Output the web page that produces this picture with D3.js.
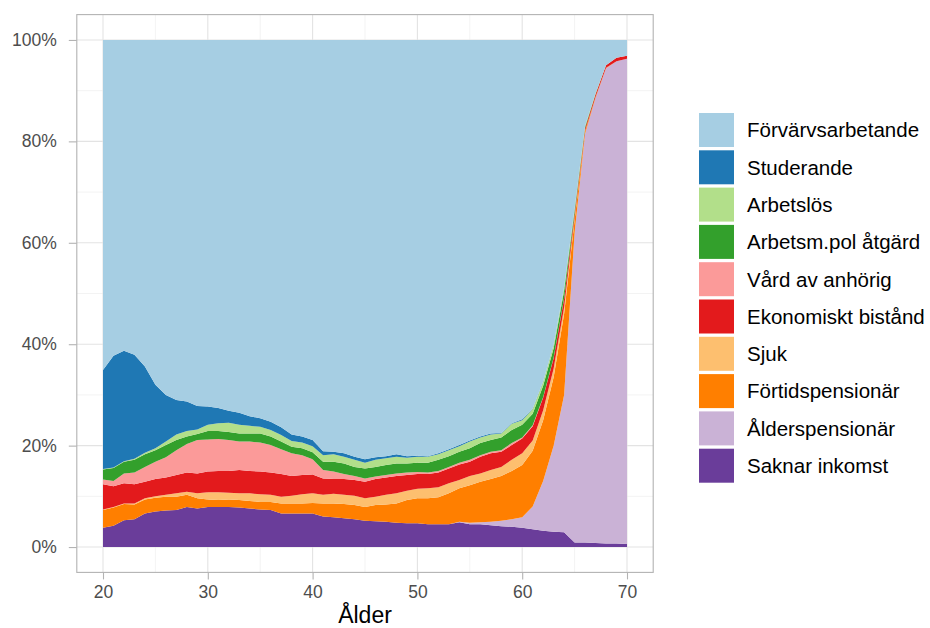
<!DOCTYPE html>
<html>
<head>
<meta charset="utf-8">
<script src="https://cdn.jsdelivr.net/npm/d3@7"></script>
<style>
  body { margin: 0; background: #fff; }
  svg text { font-family: "Liberation Sans", Arial, sans-serif; }
</style>
</head>
<body>
<div class="chart"></div>
<script>
// ålder 20..70
let ages = d3.range(20, 71)
let saknar = [3.8,4.2,5.3,5.5,6.6,7.0,7.2,7.3,7.9,7.6, 7.9,7.9,7.9,7.8,7.6,7.4,7.3,6.6,6.6,6.6, 6.6,6.0,5.9,5.7,5.5,5.2,5.1,5.0,4.8,4.7, 4.7,4.5,4.5,4.5,4.9,4.5,4.5,4.3,4.1,4.0, 3.8,3.5,3.2,3.0,2.9,0.9,0.9,0.8,0.7,0.7, 0.6]
let alders = [0,0,0,0,0,0,0,0,0,0, 0,0,0,0,0,0,0,0,0,0, 0,0,0,0,0,0,0,0,0,0, 0,0,0,0,0.1,0.3,0.4,0.7,1.1,1.5, 2.1,4.5,9.8,17.0,27.1,61.1,80.6,87.8,93.7,95.1, 95.7]
let fortid = [3.5,3.6,3.2,2.9,2.8,2.7,2.7,2.6,2.4,2.0, 1.5,1.4,1.5,1.5,1.5,1.5,1.6,2.0,2.0,2.0, 2.1,2.6,2.7,2.8,2.8,2.7,3.2,3.4,3.8,4.6, 4.9,5.1,5.3,6.1,6.6,7.4,8.0,8.4,8.8,9.5, 10.3,11.0,12.0,13.5,16.0,2.5,0.5,0.2,0.1,0, 0]
let sjuk = [0.1,0.1,0.1,0.2,0.2,0.3,0.4,0.7,0.6,1.0, 1.4,1.5,1.3,1.3,1.5,1.5,1.4,1.3,1.5,1.8, 1.9,1.7,1.9,1.8,1.8,1.7,1.6,1.9,2.0,1.8, 1.9,2.0,2.0,2.0,1.6,1.8,1.6,1.8,1.8,2.2, 2.3,2.0,2.0,1.7,1.3,0.5,0.1,0,0,0, 0]
let bistand = [5.0,4.1,4.0,3.8,3.3,3.4,3.4,3.6,3.8,3.9, 4.1,4.2,4.3,4.6,4.4,4.5,4.4,4.5,3.9,3.8, 3.7,3.2,2.9,3.1,3.1,3.3,3.5,3.4,3.4,3.1, 2.9,2.8,2.9,2.9,3.1,2.8,3.3,3.3,3.0,2.9, 2.9,2.8,2.5,2.1,1.7,0.8,0.5,0.5,0.5,0.7, 0.6]
let vard = [0.9,1.0,1.9,2.3,2.9,3.4,4.0,4.9,5.6,6.6, 6.3,6.3,6.1,5.6,5.8,5.7,5.4,4.9,4.5,3.9, 3.0,1.7,1.5,1.0,0.8,0.6,0.5,0.5,0.5,0.5, 0.4,0.3,0.3,0.3,0.3,0.4,0.3,0.3,0.3,0.4, 0.2,0.2,0.1,0.1,0.1,0,0,0,0,0, 0]
let atgard = [2.0,2.6,2.3,2.5,2.5,2.3,2.4,2.0,1.5,1.2, 1.7,1.6,1.6,1.6,1.6,1.8,1.7,1.5,1.3,1.4, 1.4,1.6,1.9,2.1,1.8,2.0,1.9,2.0,2.0,1.8, 1.8,1.9,2.2,2.1,2.2,2.3,2.4,2.3,2.5,2.6, 2.5,2.3,2.2,1.8,1.5,0.6,0.3,0.1,0,0, 0]
let arbetslos = [0.1,0.1,0.1,0.2,0.3,0.4,0.7,1.1,1.1,0.9, 1.2,1.5,1.8,1.7,1.5,1.3,1.3,1.3,1.1,1.1, 1.2,1.3,1.5,1.3,1.4,1.1,1.4,1.3,1.3,1.1, 1.2,1.2,1.1,1.2,1.1,1.3,1.1,1.1,0.8,1.2, 0.9,0.9,0.8,0.7,0.6,0.4,0.2,0.1,0,0, 0]
let studerande = [19.5,22.0,21.8,20.5,17.0,12.5,9.2,6.8,5.8,4.6, 3.6,3.0,2.4,2.4,1.9,1.7,1.6,1.5,1.3,1.2, 1.2,0.8,0.5,0.7,0.6,0.7,0.5,0.4,0.5,0.3, 0.2,0.1,0.2,0.2,0.2,0.2,0.2,0.2,0.1,0.1, 0.2,0.1,0.1,0.1,0.1,0,0,0,0,0, 0]
let forvarv = [65.1,62.3,61.3,62.1,64.4,68.0,70.0,71.0,71.3,72.2, 72.3,72.6,73.1,73.5,74.2,74.6,75.3,76.4,77.8,78.2, 78.9,81.1,81.2,81.5,82.2,82.7,82.3,82.1,81.7,82.1, 82.0,82.1,81.5,80.7,79.9,79.0,78.2,77.6,77.5,75.6, 74.8,72.7,67.3,60.0,48.7,33.2,16.9,10.5,5.0,3.5, 3.1]

// nerifrån och upp
let keys = ["Saknar inkomst", "Ålderspensionär", "Förtidspensionär", "Sjuk", "Ekonomiskt bistånd",
    "Vård av anhörig", "Arbetsm.pol åtgärd", "Arbetslös", "Studerande", "Förvärvsarbetande"]
let series = [saknar, alders, fortid, sjuk, bistand, vard, atgard, arbetslos, studerande, forvarv]
let colors = ["#6A3D9A", "#CAB2D6", "#FF7F00", "#FDBF6F", "#E31A1C", "#FB9A99", "#33A02C", "#B2DF8A", "#1F78B4", "#A6CEE3"]
let xTicks = [20, 30, 40, 50, 60, 70]
let yTicks = [0, 0.2, 0.4, 0.6, 0.8, 1]

let width = 930, height = 628
let svg = d3.select(".chart")
    .append("svg")
    .attr("width", width)
    .attr("height", height)

let rows = ages.map((a, i) => {
    let r = { age: a }
    keys.forEach((k, j) => r[k] = series[j][i])
    return r
})
let stacked = d3.stack().keys(keys).offset(d3.stackOffsetExpand)(rows)

let pLeft = 76.8, pRight = 653.2, pTop = 14.6, pBottom = 572.4
let x = d3.scaleLinear().domain([17.5, 72.5]).range([pLeft, pRight])
let y = d3.scaleLinear().domain([-0.05, 1.05]).range([pBottom, pTop])
let color = d3.scaleOrdinal().domain(keys).range(colors)

//rutnät
let grid = svg.append("g")
grid.selectAll(".minor-x")
    .data([25, 35, 45, 55, 65])
    .enter()
    .append("line")
    .attr("x1", d => x(d)).attr("x2", d => x(d))
    .attr("y1", pTop).attr("y2", pBottom)
    .attr("stroke", "#ebebeb").attr("stroke-width", 0.6)
grid.selectAll(".minor-y")
    .data([0.1, 0.3, 0.5, 0.7, 0.9])
    .enter()
    .append("line")
    .attr("x1", pLeft).attr("x2", pRight)
    .attr("y1", d => y(d)).attr("y2", d => y(d))
    .attr("stroke", "#ebebeb").attr("stroke-width", 0.6)
grid.selectAll(".major-x")
    .data(xTicks)
    .enter()
    .append("line")
    .attr("x1", d => x(d)).attr("x2", d => x(d))
    .attr("y1", pTop).attr("y2", pBottom)
    .attr("stroke", "#e3e3e3").attr("stroke-width", 1.1)
grid.selectAll(".major-y")
    .data(yTicks)
    .enter()
    .append("line")
    .attr("x1", pLeft).attr("x2", pRight)
    .attr("y1", d => y(d)).attr("y2", d => y(d))
    .attr("stroke", "#e3e3e3").attr("stroke-width", 1.1)

//ytor
let area = d3.area()
    .x(d => x(d.data.age))
    .y0(d => y(d[0]))
    .y1(d => y(d[1]))
svg.append("g")
    .selectAll("path")
    .data(stacked)
    .enter()
    .append("path")
    .attr("d", area)
    .attr("fill", d => color(d.key))

svg.append("rect")
    .attr("x", pLeft).attr("y", pTop)
    .attr("width", pRight - pLeft).attr("height", pBottom - pTop)
    .attr("fill", "none")
    .attr("stroke", "#b3b3b3")
    .attr("stroke-width", 1.1)

//axlar
let xAxis = svg.append("g")
    .attr("transform", `translate(0,${pBottom})`)
    .call(d3.axisBottom(x).tickValues(xTicks).tickSize(7).tickPadding(6).tickFormat(d3.format("d")))
let yAxis = svg.append("g")
    .attr("transform", `translate(${pLeft},0)`)
    .call(d3.axisLeft(y).tickValues(yTicks).tickSize(8).tickPadding(12).tickFormat(d3.format(".0%")))
;[xAxis, yAxis].forEach(a => {
    a.select(".domain").remove()
    a.selectAll(".tick line").attr("stroke", "#b3b3b3").attr("stroke-width", 1.1)
    a.selectAll(".tick text")
        .attr("fill", "#4d4d4d")
        .attr("font-size", 17.5)
        .style("font-family", "Liberation Sans, Arial, sans-serif")
})

svg.append("text")
    .attr("x", (pLeft + pRight) / 2)
    .attr("y", 623)
    .attr("text-anchor", "middle")
    .attr("font-size", 23)
    .attr("fill", "#000")
    .text("Ålder")

//legend
let legend = svg.append("g")
    .attr("transform", "translate(699,113)")
let legendKeys = keys.slice().reverse()
let item = legend.selectAll("g")
    .data(legendKeys)
    .enter()
    .append("g")
    .attr("transform", (d, i) => `translate(0,${i * 37.3})`)
item.append("rect")
    .attr("width", 35)
    .attr("height", 34)
    .attr("fill", d => color(d))
item.append("text")
    .attr("x", 48)
    .attr("y", 17)
    .attr("dy", "0.36em")
    .attr("font-size", 20.5)
    .attr("fill", "#000")
    .text(d => d)
</script>
</body>
</html>
